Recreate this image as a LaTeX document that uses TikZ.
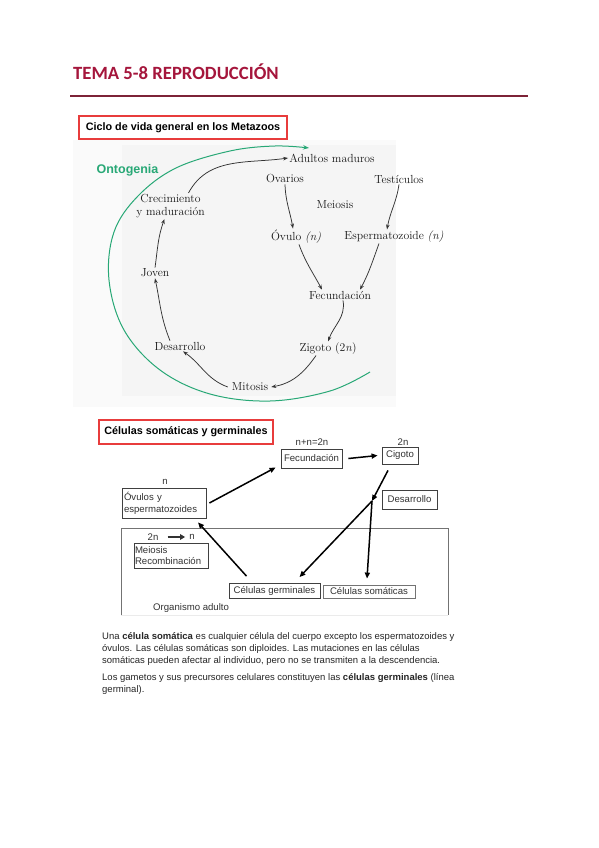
\documentclass[tikz,border=0pt]{standalone}
\usepackage{fontspec}
\newfontfamily\arial{Liberation Sans}
\newfontfamily\carlito{Carlito}
\usetikzlibrary{arrows.meta}
\definecolor{titlered}{RGB}{165,22,60}
\definecolor{rulecol}{RGB}{125,35,55}
\definecolor{hdrred}{RGB}{232,60,60}
\definecolor{ontogreen}{RGB}{40,168,118}
\begin{document}
\begin{tikzpicture}[x=1pt,y=1pt,
  hdrbox/.style={draw=hdrred,line width=1.1pt,inner sep=0pt,font=\arial\bfseries\fontsize{10.8}{12}\selectfont},
  bio/.style={font=\fontsize{11.7}{13}\selectfont,inner sep=1pt,text=black!90},
  bioarr/.style={draw=black!80,line width=0.75pt,-{Stealth[length=5pt,width=3.6pt]}},
  sbox/.style={draw=black!75,line width=0.8pt,inner sep=0pt,font=\arial\fontsize{9.6}{11}\selectfont,text=black!80},
  slab/.style={font=\arial\fontsize{9.6}{10}\selectfont,inner sep=0pt,text=black!80},
  sarr/.style={draw=black,line width=1.5pt,-{Triangle[length=6pt,width=5pt]}},
  para/.style={font=\arial\fontsize{9.5}{10}\selectfont,inner sep=0pt,anchor=base west,text=black!85}
]
\useasboundingbox (0,0) rectangle (599,-848);
\fill[white] (0,0) rectangle (599,-848);
% title
\node[anchor=base west,inner sep=0pt,text=titlered,font=\carlito\bfseries\fontsize{18.7}{22}\selectfont] (title) at (73,-80) {TEMA 5-8 REPRODUCCIÓN};
\draw[rulecol,line width=1.6pt] (70,-96) -- (528,-96);
% panel background
\fill[black!2] (73,-140) rectangle (396,-407);
\fill[black!4] (122,-145) rectangle (396,-396);
% header 1
\node[hdrbox,minimum width=208pt,minimum height=23pt] (h1) at (183,-127.5) {Ciclo de vida general en los Metazoos};
% green arc
\draw[ontogreen,line width=1pt,-{Stealth[length=6pt,width=4.5pt]}] plot[smooth,tension=0.6] coordinates {(370,-372) (330,-391) (270,-401) (210,-394) (160,-370) (124,-330) (109,-280) (114,-232) (138,-196) (176,-168) (230,-151) (275,-146) (309,-148)};
\node[font=\arial\bfseries\fontsize{12.5}{14}\selectfont,text=ontogreen,inner sep=0pt] (onto) at (127.5,-170) {Ontogenia};
% bio nodes
\node[bio] (adu) at (332,-158) {Adultos maduros};
\node[bio] (ova) at (285,-179) {Ovarios};
\node[bio] (tes) at (399,-179) {Testículos};
\node[bio] (mei) at (335,-205) {Meiosis};
\node[bio] (ovu) at (296,-236.5) {Óvulo \textit{(n)}};
\node[bio] (esp) at (394,-236.5) {Espermatozoide \textit{(n)}};
\node[bio] (fec) at (340,-295) {Fecundación};
\node[bio] (zig) at (328,-348.5) {Zigoto (2\textit{n})};
\node[bio] (mit) at (250,-387) {Mitosis};
\node[bio] (des) at (180,-346) {Desarrollo};
\node[bio] (jov) at (155,-273) {Joven};
\node[bio,align=center] (cre) at (170.5,-206) {Crecimiento\\y maduración};
% bio arrows
\draw[bioarr] ([xshift=18pt]cre.north) to[out=62,in=188] (adu.west);
\draw[bioarr] (jov.north) to[out=82,in=-110] ([xshift=-6pt]cre.south);
\draw[bioarr] ([xshift=-10pt]des.north) to[out=112,in=-78] (jov.south);
\draw[bioarr] ([xshift=-3pt]mit.west) to[out=160,in=-35] ([xshift=3pt]des.south);
\draw[bioarr] ([xshift=-12pt]zig.south) to[out=-125,in=10] ([xshift=2pt]mit.east);
\draw[bioarr] ([xshift=3pt]fec.south) to[out=-80,in=70] (zig.north);
\draw[bioarr] ([xshift=3pt]ovu.south) to[out=-70,in=118] ([xshift=-18pt]fec.north);
\draw[bioarr] ([xshift=-15pt]esp.south) to[out=-110,in=62] ([xshift=20pt]fec.north);
\draw[bioarr] (ova.south) to[out=-88,in=100] ([xshift=-3pt]ovu.north);
\draw[bioarr] (tes.south) to[out=-98,in=80] ([xshift=-7pt]esp.north);
% header 2
\node[hdrbox,minimum width=174pt,minimum height=24pt] (h2) at (186,-432) {Células somáticas y germinales};
% organism box
\draw[black!55,line width=0.8pt] (121,-615) coordinate (ob1) |- (448,-528) coordinate (ob2) -- (448,-615) coordinate (ob3);
\draw[black!8,line width=0.6pt] (ob1) -- (ob3);
% boxes
\node[sbox,minimum width=61pt,minimum height=19pt] (fec2) at (311.5,-458.5) {Fecundación};
\node[sbox,minimum width=36pt,minimum height=17pt] (cig) at (400,-455.5) {Cigoto};
\node[sbox,minimum width=84pt,minimum height=30pt,align=left,text width=80pt,inner xsep=2pt,font=\arial\fontsize{9.6}{12}\selectfont] (ovs) at (164,-503) {Óvulos y\\espermatozoides};
\node[sbox,minimum width=55pt,minimum height=19pt] (des2) at (409.5,-499.5) {Desarrollo};
\node[sbox,minimum width=74pt,minimum height=25pt,align=left,text width=72pt,inner xsep=1pt,font=\arial\fontsize{9.6}{11.3}\selectfont] (mei2) at (171,-555.5) {Meiosis\\Recombinación};
\node[sbox,minimum width=91pt,minimum height=15pt] (cger) at (274.5,-591) {Células germinales};
\node[sbox,minimum width=92pt,minimum height=13pt,draw=black!55] (csom) at (369,-591.5) {Células somáticas};
% labels
\node[slab] (l2n) at (312,-442) {n+n=2n};
\node[slab] (l2nb) at (403,-442) {2n};
\node[slab] (ln) at (165,-482) {n};
\node[slab] (mtop2n) at (153,-537) {2n};
\node[slab] (mtopn) at (192,-537) {n};
\draw[black!80,line width=1.5pt,-{Triangle[length=5pt,width=5.5pt]}] ([xshift=9pt]mtop2n.east) -- ([xshift=-4pt]mtopn.west);
\node[slab,anchor=west] (orgl) at (153,-608) {Organismo adulto};
% connectors
\coordinate (br) at (372,-501);
\draw[sarr] ([xshift=3pt]ovs.east) -- ([xshift=-5pt,yshift=-9pt]fec2.west);
\draw[sarr] ([xshift=6pt]fec2.east) -- ([xshift=-4pt]cig.west);
\draw[sarr] ([xshift=-12pt,yshift=-6pt]cig.south) -- (br);
\draw[sarr] (br) -- ([xshift=25pt,yshift=6pt]cger.north);
\draw[sarr] (br) -- ([xshift=-2pt,yshift=6pt]csom.north);
\draw[sarr] ([xshift=-28pt,yshift=7pt]cger.north) -- ([xshift=34pt,yshift=-4pt]ovs.south);
% paragraph
\node[para] (p1) at (102,-639) {Una \textbf{célula somática} es cualquier célula del cuerpo excepto los espermatozoides y};
\node[para] (p2) at (102,-651) {óvulos. Las células somáticas son diploides. Las mutaciones en las células};
\node[para] (p3) at (102,-663) {somáticas pueden afectar al individuo, pero no se transmiten a la descendencia.};
\node[para] (p4) at (102,-680) {Los gametos y sus precursores celulares constituyen las \textbf{células germinales} (línea};
\node[para] (p5) at (102,-692) {germinal).};
\end{tikzpicture}
\end{document}
